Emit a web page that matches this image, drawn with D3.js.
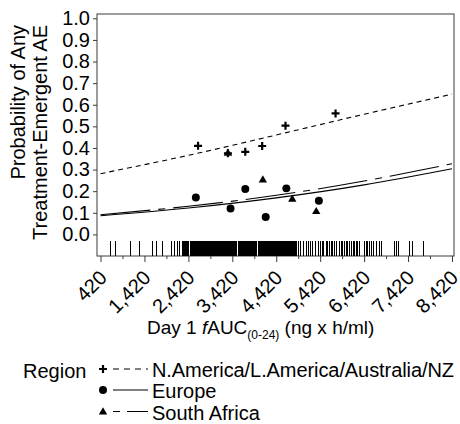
<!DOCTYPE html>
<html>
<head>
<meta charset="utf-8">
<script src="https://cdn.jsdelivr.net/npm/d3@7"></script>
<style>
body { margin: 0; background: #fff; }
text { font-family: Arial, "Liberation Sans", Helvetica, sans-serif; font-stretch: normal; fill: #000; }
</style>
</head>
<body>
<script>
// Values

var regions = ["N.America/L.America/Australia/NZ", "Europe", "South Africa"];

// observed proportions per exposure bin
var naAuc = [2640, 3320, 3715, 4100, 4630, 5770];
var naProb = [0.41, 0.375, 0.382, 0.409, 0.503, 0.56];
var euAuc = [2590, 3380, 3715, 4180, 4650, 5390];
var euProb = [0.171, 0.12, 0.21, 0.081, 0.213, 0.156];
var saAuc = [3320, 4115, 4785, 5330];
var saProb = [0.375, 0.251, 0.162, 0.105];

// fitted curves, read at a few points
var fitAuc = [420, 2420, 4420, 6420, 8420];
var naFit = [0.281, 0.366, 0.46, 0.556, 0.649];
var euFit = [0.086, 0.122, 0.169, 0.229, 0.304];
var saFit = [0.091, 0.13, 0.181, 0.247, 0.327];

// tick labels
var xTicks = [420, 1420, 2420, 3420, 4420, 5420, 6420, 7420, 8420];
var xMinor = [920, 1920, 2920, 3920, 4920, 5920, 6920, 7920];
var yTicks = [0, 0.1, 0.2, 0.3, 0.4, 0.5, 0.6, 0.7, 0.8, 0.9, 1.0];

// individual patient exposures (rug)
var rugAuc = [647, 761, 1102, 1313, 1602, 1700, 1836, 2047, 2109, 2170, 2229, 2275,
  2320, 2342, 2364, 2386, 2410, 2430, 2470, 2490, 2520, 2542, 2564, 2586, 2608, 2630,
  2652, 2674, 2696, 2718, 2740, 2762, 2784, 2806, 2828, 2850, 2880, 2902, 2924, 2946,
  2968, 2990, 3012, 3034, 3056, 3078, 3100, 3122, 3144, 3166, 3188, 3210, 3232, 3260,
  3282, 3304, 3326, 3348, 3370, 3392, 3414, 3436, 3458, 3480, 3502, 3524, 3560, 3582,
  3604, 3626, 3648, 3670, 3692, 3714, 3736, 3758, 3780, 3802, 3824, 3846, 3868, 3890,
  3912, 3934, 3956, 3978, 4015, 4037, 4059, 4081, 4103, 4125, 4147, 4169, 4191, 4213,
  4235, 4257, 4279, 4301, 4323, 4345, 4367, 4389, 4411, 4433, 4455, 4477, 4499, 4521,
  4543, 4565, 4587, 4609, 4631, 4653, 4675, 4697, 4719, 4741, 4763, 4785, 4807, 4829,
  4851, 4888, 4934, 4979, 5040, 5102, 5147, 5193, 5252, 5313, 5388, 5420, 5465, 5502,
  5556, 5593, 5631, 5670, 5706, 5745, 5797, 5859, 5897, 5934, 5972, 6011, 6047, 6086,
  6125, 6177, 6206, 6238, 6275, 6313, 6427, 6465, 6502, 6540, 6579, 6631, 6693, 6768,
  6806, 7109, 7147, 7206, 7450, 7511, 7768];

// Chart size and scales

var W = 460, H = 424;
var plot = {left: 97, top: 14, right: 454, bottom: 256};
var fontSize = 20;

var x = d3.scaleLinear().domain([340, 8466]).range([plot.left, plot.right]);
var y = d3.scaleLinear().domain([-0.1, 1.02]).range([plot.bottom, plot.top]);

var dashNA = "5,4";
var dashSA = "50,8,7,8";

var svg = d3.select("body").append("svg")
  .attr("width", W)
  .attr("height", H);

// frame
svg.append("rect")
  .attr("x", plot.left)
  .attr("y", plot.top)
  .attr("width", plot.right - plot.left)
  .attr("height", plot.bottom - plot.top)
  .attr("fill", "none")
  .attr("stroke", "#3a3a3a")
  .attr("stroke-width", 1);

// y axis
var yAxis = d3.axisLeft(y)
  .tickValues(yTicks)
  .tickSize(4)
  .tickPadding(3)
  .tickFormat(d3.format(".1f"));

var gy = svg.append("g")
  .attr("transform", "translate(" + plot.left + ",0)")
  .call(yAxis)
  .attr("font-family", null);
gy.select(".domain").remove();
gy.selectAll("line").attr("stroke", "#3a3a3a");
gy.selectAll("text").attr("font-size", fontSize);

// x axis, major and minor ticks
var xAxis = d3.axisBottom(x)
  .tickValues(xTicks)
  .tickSize(6)
  .tickFormat(d3.format(","));

var gx = svg.append("g")
  .attr("transform", "translate(0," + plot.bottom + ")")
  .call(xAxis)
  .attr("font-family", null);
gx.select(".domain").remove();
gx.selectAll("line").attr("stroke", "#3a3a3a");
gx.selectAll("text")
  .attr("font-size", fontSize)
  .attr("text-anchor", "end")
  .attr("y", 0)
  .attr("dy", 0)
  .attr("transform", "translate(7,23) rotate(-45)");

svg.append("g")
  .attr("transform", "translate(0," + plot.bottom + ")")
  .call(d3.axisBottom(x).tickValues(xMinor).tickSize(3).tickFormat(""))
  .call(function(g) { g.select(".domain").remove(); })
  .selectAll("line").attr("stroke", "#3a3a3a");

// axis titles
svg.append("text")
  .attr("transform", "translate(25,25) rotate(-90)")
  .attr("text-anchor", "end")
  .attr("font-size", fontSize)
  .text("Probability of Any");
svg.append("text")
  .attr("transform", "translate(46.5,25) rotate(-90)")
  .attr("text-anchor", "end")
  .attr("font-size", fontSize)
  .text("Treatment-Emergent AE");

var xt = svg.append("text")
  .attr("x", 147)
  .attr("y", 334)
  .attr("font-size", 19);
xt.append("tspan").text("Day 1 ");
xt.append("tspan").attr("font-style", "italic").text("f");
xt.append("tspan").text("AUC");
xt.append("tspan").attr("font-size", 12).attr("dy", 5).text("(0-24)");
xt.append("tspan").attr("dy", -5).text(" (ng x h/ml)");

// rug of patient exposures
svg.append("g")
  .attr("shape-rendering", "crispEdges")
  .selectAll("line")
  .data(rugAuc)
  .enter().append("line")
  .attr("x1", function(d) { return x(d); })
  .attr("x2", function(d) { return x(d); })
  .attr("y1", y(-0.03))
  .attr("y2", y(-0.1))
  .attr("stroke", "#000")
  .attr("stroke-width", 1);

// fitted curves
var line = d3.line()
  .x(function(d, i) { return x(fitAuc[i]); })
  .y(function(d) { return y(d); })
  .curve(d3.curveNatural);

svg.append("path").attr("d", line(euFit))
  .attr("fill", "none").attr("stroke", "#000").attr("stroke-width", 1.1);
svg.append("path").attr("d", line(saFit))
  .attr("fill", "none").attr("stroke", "#000").attr("stroke-width", 1.1)
  .attr("stroke-dasharray", dashSA);
svg.append("path").attr("d", line(naFit))
  .attr("fill", "none").attr("stroke", "#000").attr("stroke-width", 1.1)
  .attr("stroke-dasharray", dashNA);

// markers
var plusPath = "M-4,0H4M0,-4V4";
var circle = d3.symbol().type(d3.symbolCircle).size(50);
var triangle = d3.symbol().type(d3.symbolTriangle).size(30);

svg.append("g").selectAll("path")
  .data(euAuc)
  .enter().append("path")
  .attr("d", circle)
  .attr("transform", function(d, i) { return "translate(" + x(d) + "," + y(euProb[i]) + ")"; })
  .attr("fill", "#000");

svg.append("g").selectAll("path")
  .data(saAuc)
  .enter().append("path")
  .attr("d", triangle)
  .attr("transform", function(d, i) { return "translate(" + x(d) + "," + y(saProb[i]) + ")"; })
  .attr("fill", "#000");

svg.append("g").selectAll("path")
  .data(naAuc)
  .enter().append("path")
  .attr("d", plusPath)
  .attr("transform", function(d, i) { return "translate(" + x(d) + "," + y(naProb[i]) + ")"; })
  .attr("stroke", "#000")
  .attr("stroke-width", 2.2)
  .attr("fill", "none");

// legend
var leg = svg.append("g");
var rowY = [369, 390, 411.5];

leg.append("text")
  .attr("x", 23)
  .attr("y", 378)
  .attr("font-size", fontSize)
  .text("Region");

leg.append("path").attr("d", plusPath)
  .attr("transform", "translate(103," + rowY[0] + ")")
  .attr("stroke", "#000").attr("stroke-width", 2.2);
leg.append("path").attr("d", circle)
  .attr("transform", "translate(103," + rowY[1] + ")");
leg.append("path").attr("d", triangle)
  .attr("transform", "translate(103," + (rowY[2] + 0.5) + ")");

var legDash = ["6,5", null, "7,7,50,8"];
regions.forEach(function(r, i) {
  leg.append("line")
    .attr("x1", 113).attr("x2", 148)
    .attr("y1", rowY[i]).attr("y2", rowY[i])
    .attr("stroke", "#000")
    .attr("stroke-width", 1.1)
    .attr("stroke-dasharray", legDash[i]);
  var t = leg.append("text")
    .attr("x", 152)
    .attr("y", rowY[i] + 8)
    .attr("font-size", fontSize)
    .text(r);
  // the long label is a little wider in the original
  if (i == 0) t.attr("textLength", 302).attr("lengthAdjust", "spacing");
});
</script>
</body>
</html>
